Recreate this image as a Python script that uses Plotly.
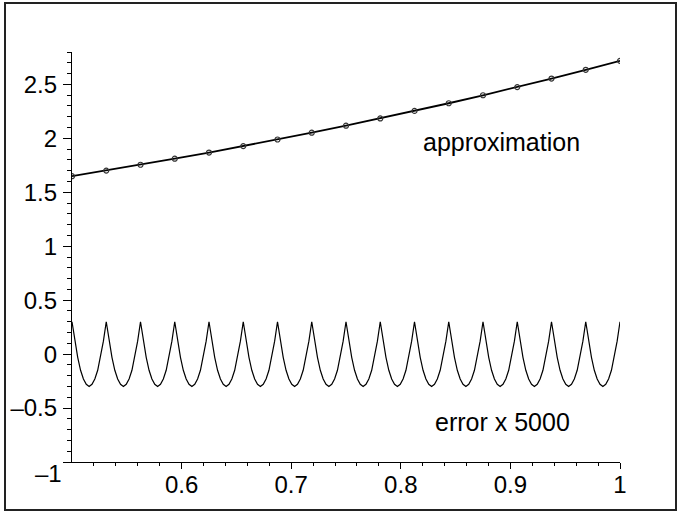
import numpy as np
import plotly.graph_objects as go

# ---- data ----
node_x = [0.5, 0.53125, 0.5625, 0.59375, 0.625, 0.65625, 0.6875, 0.71875, 0.75,
          0.78125, 0.8125, 0.84375, 0.875, 0.90625, 0.9375, 0.96875, 1.0]
approx_y = [1.649, 1.701, 1.755, 1.811, 1.868, 1.928, 1.989, 2.052, 2.117,
            2.184, 2.254, 2.325, 2.399, 2.475, 2.554, 2.635, 2.718]

error_scaled = [
    0.30, 0.12, -0.03, -0.15, -0.23, -0.28, -0.30, -0.28, -0.23, -0.15, -0.03, 0.12,
    0.30, 0.12, -0.03, -0.15, -0.23, -0.28, -0.30, -0.28, -0.23, -0.15, -0.03, 0.12,
    0.30, 0.12, -0.03, -0.15, -0.23, -0.28, -0.30, -0.28, -0.23, -0.15, -0.03, 0.12,
    0.30, 0.12, -0.03, -0.15, -0.23, -0.28, -0.30, -0.28, -0.23, -0.15, -0.03, 0.12,
    0.30, 0.12, -0.03, -0.15, -0.23, -0.28, -0.30, -0.28, -0.23, -0.15, -0.03, 0.12,
    0.30, 0.12, -0.03, -0.15, -0.23, -0.28, -0.30, -0.28, -0.23, -0.15, -0.03, 0.12,
    0.30, 0.12, -0.03, -0.15, -0.23, -0.28, -0.30, -0.28, -0.23, -0.15, -0.03, 0.12,
    0.30, 0.12, -0.03, -0.15, -0.23, -0.28, -0.30, -0.28, -0.23, -0.15, -0.03, 0.12,
    0.30, 0.12, -0.03, -0.15, -0.23, -0.28, -0.30, -0.28, -0.23, -0.15, -0.03, 0.12,
    0.30, 0.12, -0.03, -0.15, -0.23, -0.28, -0.30, -0.28, -0.23, -0.15, -0.03, 0.12,
    0.30, 0.12, -0.03, -0.15, -0.23, -0.28, -0.30, -0.28, -0.23, -0.15, -0.03, 0.12,
    0.30, 0.12, -0.03, -0.15, -0.23, -0.28, -0.30, -0.28, -0.23, -0.15, -0.03, 0.12,
    0.30, 0.12, -0.03, -0.15, -0.23, -0.28, -0.30, -0.28, -0.23, -0.15, -0.03, 0.12,
    0.30, 0.12, -0.03, -0.15, -0.23, -0.28, -0.30, -0.28, -0.23, -0.15, -0.03, 0.12,
    0.30, 0.12, -0.03, -0.15, -0.23, -0.28, -0.30, -0.28, -0.23, -0.15, -0.03, 0.12,
    0.30, 0.12, -0.03, -0.15, -0.23, -0.28, -0.30, -0.28, -0.23, -0.15, -0.03, 0.12,
    0.30,
]
error_x = np.linspace(0.5, 1.0, len(error_scaled))

x_tickvals = [0.6, 0.7, 0.8, 0.9, 1.0]
x_ticktext = ["0.6", "0.7", "0.8", "0.9", "1"]
y_tickvals = [-1, -0.5, 0, 0.5, 1, 1.5, 2, 2.5]
y_ticktext = ["", "\u20130.5", "0", "0.5", "1", "1.5", "2", "2.5"]

# ---- layout constants ----
W, H = 679, 513
ML, MR, MT, MB = 72, 59, 52, 51
FONT = "Liberation Sans, Arial, Helvetica, sans-serif"
FS = 24
FS_ANN = 25

fig = go.Figure()
fig.add_trace(go.Scatter(x=error_x, y=error_scaled, mode="lines",
                         line=dict(color="black", width=1.2), hoverinfo="skip"))
fig.add_trace(go.Scatter(x=node_x, y=approx_y, mode="lines+markers",
                         line=dict(color="black", width=1.8),
                         marker=dict(symbol="circle-open", size=5,
                                     color="#333333", line=dict(width=1.2))))

pw = W - ML - MR
ph = H - MT - MB
def px_x(p):
    return (p - ML) / pw
def px_y(p):
    return (H - MB - p) / ph

fig.add_shape(type="rect", xref="paper", yref="paper",
              x0=px_x(5), x1=px_x(676), y0=px_y(510), y1=px_y(3),
              line=dict(color="#222222", width=2), layer="below")

fig.add_annotation(x=0.892, y=1.963, text="approximation", showarrow=False,
                   font=dict(family=FONT, size=FS_ANN, color="black"))
fig.add_annotation(x=0.893, y=-0.63, text="error x 5000", showarrow=False,
                   font=dict(family=FONT, size=FS_ANN, color="black"))
fig.add_annotation(xref="paper", yref="paper", x=px_x(64), y=px_y(473),
                   xanchor="right", yanchor="middle", text="\u20131",
                   showarrow=False, font=dict(family=FONT, size=FS, color="black"))

fig.update_layout(
    width=W, height=H,
    margin=dict(l=ML, r=MR, t=MT, b=MB, autoexpand=False),
    paper_bgcolor="white", plot_bgcolor="white",
    showlegend=False,
    font=dict(family=FONT, size=FS, color="black"),
    xaxis=dict(range=[0.5, 1.0], showgrid=False, zeroline=False, automargin=False,
               showline=True, linecolor="black", linewidth=1.2,
               tickmode="array", tickvals=x_tickvals, ticktext=x_ticktext,
               ticks="outside", ticklen=6, tickwidth=1.2, tickcolor="black",
               ticklabelstandoff=-5,
               minor=dict(tickmode="array",
                          tickvals=[round(v, 2) for v in np.arange(0.52, 1.0, 0.02)],
                          ticks="outside", ticklen=3, tickwidth=1, tickcolor="black")),
    yaxis=dict(range=[-1, 2.8], showgrid=False, zeroline=False, automargin=False,
               showline=True, linecolor="black", linewidth=1.2,
               tickmode="array", tickvals=y_tickvals, ticktext=y_ticktext,
               ticks="outside", ticklen=8, tickwidth=1.2, tickcolor="black",
               ticklabelstandoff=1,
               minor=dict(tickmode="array",
                          tickvals=[round(v, 1) for v in np.arange(-0.9, 2.85, 0.1)],
                          ticks="outside", ticklen=4, tickwidth=1, tickcolor="black")),
)

fig.write_html("out.html", config=dict(displayModeBar=False),
               post_script="document.body.style.margin='0';")
